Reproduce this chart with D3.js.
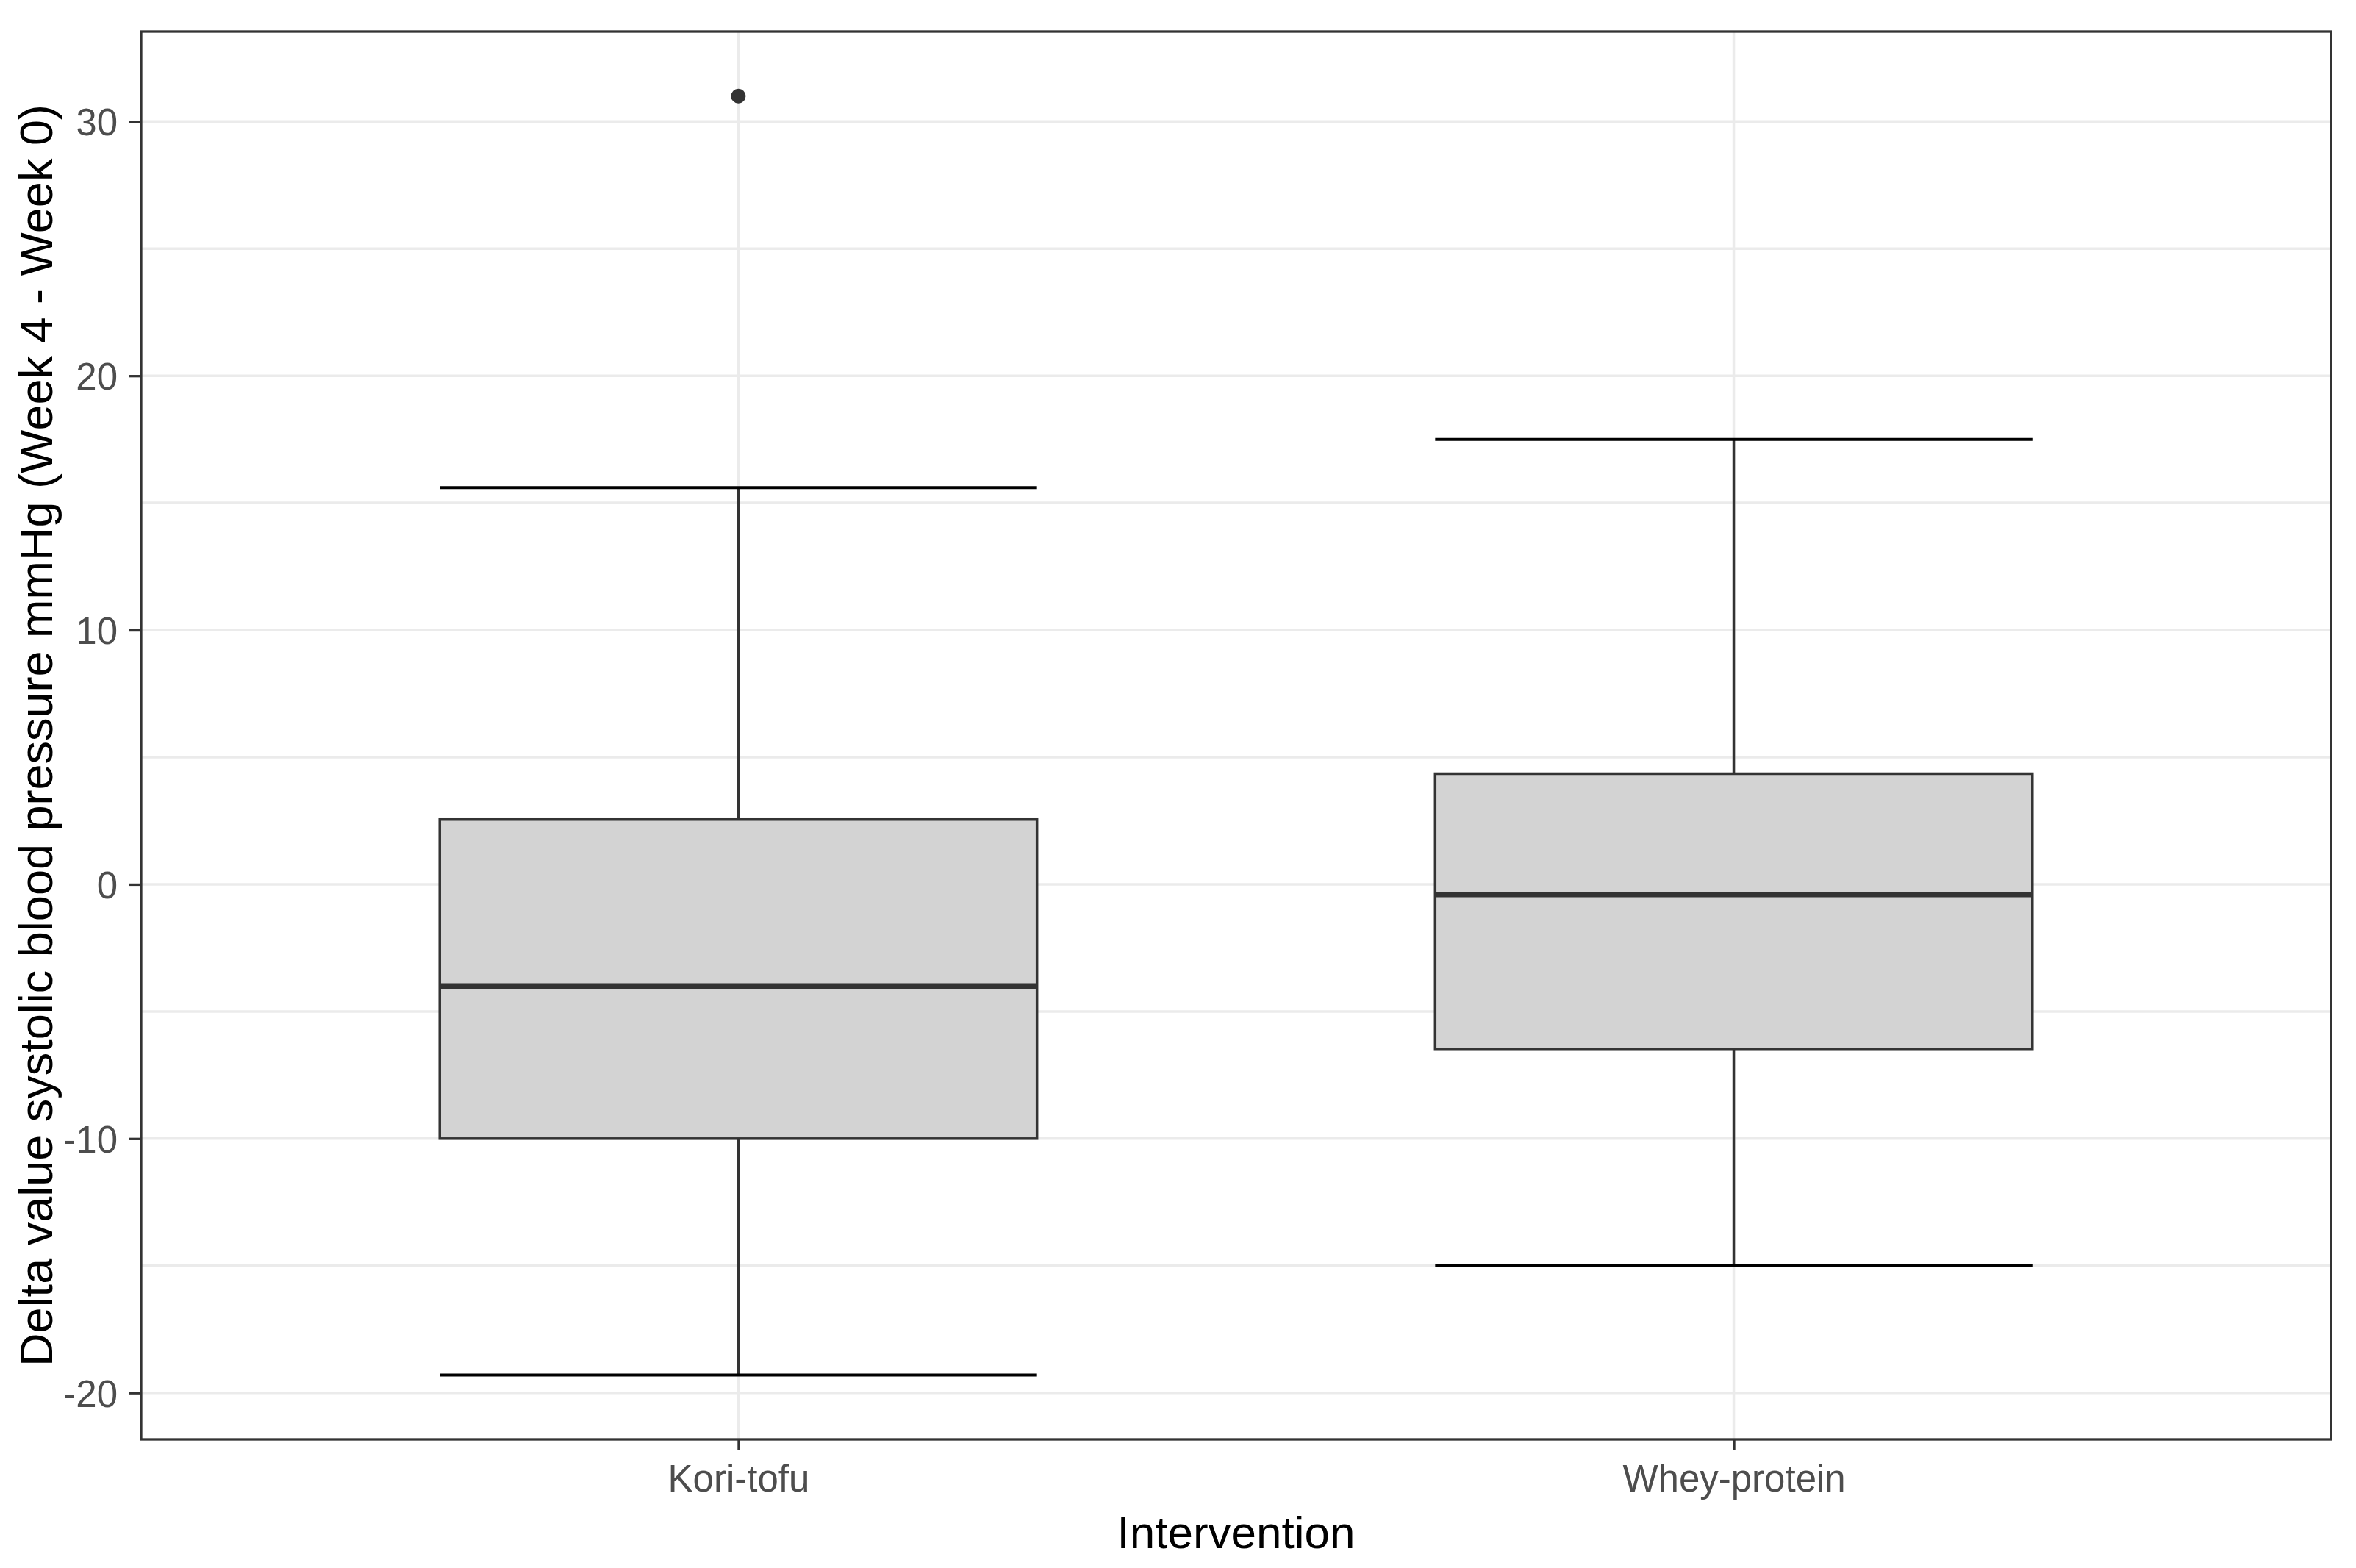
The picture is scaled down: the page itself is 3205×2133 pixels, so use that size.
<!DOCTYPE html>
<html>
<head>
<meta charset="utf-8">
<script src="https://cdn.jsdelivr.net/npm/d3@7"></script>
<style>
  html, body { margin: 0; padding: 0; background: #ffffff; }
  svg { display: block; }
</style>
</head>
<body>
<script>
// ---- data ----
const categories   = ["Kori-tofu", "Whey-protein"];
const whiskerLow   = [-19.3, -15.0];
const q1           = [-10.0, -6.5];
const median       = [-4.0, -0.4];
const q3           = [2.55, 4.35];
const whiskerHigh  = [15.6, 17.5];
const outlierGroup = ["Kori-tofu"];
const outlierValue = [31.0];
const yTicks       = [-20, -10, 0, 10, 20, 30];
const yMinorTicks  = [-15, -5, 5, 15, 25];
const xTitle = "Intervention";
const yTitle = "Delta value systolic blood pressure mmHg (Week 4 - Week 0)";

// ---- layout ----
const W = 3205, H = 2133;
const panel = { left: 192, right: 3171, top: 43, bottom: 1958 };
const FONT = "'Liberation Sans', Arial, sans-serif";

const svg = d3.select("body").append("svg")
  .attr("width", W).attr("height", H)
  .attr("viewBox", `0 0 ${W} ${H}`);

svg.append("rect").attr("width", W).attr("height", H).attr("fill", "#ffffff");

const y = d3.scaleLinear().domain([-20, 30]).range([1894.7, 165.3]);
const x = d3.scalePoint().domain(categories)
  .range([panel.left, panel.right]).padding(0.6);
const boxW = x.step() * 0.6;

// panel background
svg.append("rect")
  .attr("x", panel.left).attr("y", panel.top)
  .attr("width", panel.right - panel.left).attr("height", panel.bottom - panel.top)
  .attr("fill", "#ffffff");

// grid lines
const grid = svg.append("g");
grid.selectAll("line.minor").data(yMinorTicks).join("line")
  .attr("x1", panel.left).attr("x2", panel.right)
  .attr("y1", d => y(d)).attr("y2", d => y(d))
  .attr("stroke", "#EBEBEB").attr("stroke-width", 3.5);
grid.selectAll("line.major").data(yTicks).join("line")
  .attr("x1", panel.left).attr("x2", panel.right)
  .attr("y1", d => y(d)).attr("y2", d => y(d))
  .attr("stroke", "#EBEBEB").attr("stroke-width", 3.5);
grid.selectAll("line.vx").data(categories).join("line")
  .attr("x1", d => x(d)).attr("x2", d => x(d))
  .attr("y1", panel.top).attr("y2", panel.bottom)
  .attr("stroke", "#EBEBEB").attr("stroke-width", 3.5);

// boxes
const stats = categories.map((c, i) => ({
  cat: c, lo: whiskerLow[i], q1: q1[i], med: median[i], q3: q3[i], hi: whiskerHigh[i]
}));
const g = svg.append("g");
const grp = g.selectAll("g.box").data(stats).join("g");

// whisker stems
grp.append("line")
  .attr("x1", d => x(d.cat)).attr("x2", d => x(d.cat))
  .attr("y1", d => y(d.hi)).attr("y2", d => y(d.q3))
  .attr("stroke", "#333333").attr("stroke-width", 3.5);
grp.append("line")
  .attr("x1", d => x(d.cat)).attr("x2", d => x(d.cat))
  .attr("y1", d => y(d.q1)).attr("y2", d => y(d.lo))
  .attr("stroke", "#333333").attr("stroke-width", 3.5);
// caps
grp.append("line")
  .attr("x1", d => x(d.cat) - boxW / 2).attr("x2", d => x(d.cat) + boxW / 2)
  .attr("y1", d => y(d.hi)).attr("y2", d => y(d.hi))
  .attr("stroke", "#000000").attr("stroke-width", 4);
grp.append("line")
  .attr("x1", d => x(d.cat) - boxW / 2).attr("x2", d => x(d.cat) + boxW / 2)
  .attr("y1", d => y(d.lo)).attr("y2", d => y(d.lo))
  .attr("stroke", "#000000").attr("stroke-width", 4);
// box
grp.append("rect")
  .attr("x", d => x(d.cat) - boxW / 2).attr("width", boxW)
  .attr("y", d => y(d.q3)).attr("height", d => y(d.q1) - y(d.q3))
  .attr("fill", "#D3D3D3").attr("stroke", "#333333").attr("stroke-width", 3.5);
// median
grp.append("line")
  .attr("x1", d => x(d.cat) - boxW / 2).attr("x2", d => x(d.cat) + boxW / 2)
  .attr("y1", d => y(d.med)).attr("y2", d => y(d.med))
  .attr("stroke", "#333333").attr("stroke-width", 7.5);

// outliers
g.selectAll("circle.out").data(outlierValue).join("circle")
  .attr("cx", (d, i) => x(outlierGroup[i])).attr("cy", d => y(d))
  .attr("r", 10).attr("fill", "#333333");

// panel border
svg.append("rect")
  .attr("x", panel.left).attr("y", panel.top)
  .attr("width", panel.right - panel.left).attr("height", panel.bottom - panel.top)
  .attr("fill", "none").attr("stroke", "#333333").attr("stroke-width", 3.3);

// axes
const yAxis = svg.append("g").attr("transform", `translate(${panel.left},0)`)
  .call(d3.axisLeft(y).tickValues(yTicks).tickSize(17).tickPadding(15).tickFormat(d => String(d)));
const xAxis = svg.append("g").attr("transform", `translate(0,${panel.bottom})`)
  .call(d3.axisBottom(x).tickSize(15).tickPadding(20));
[yAxis, xAxis].forEach(a => {
  a.select(".domain").remove();
  a.selectAll(".tick line").attr("stroke", "#333333").attr("stroke-width", 3.3);
  a.selectAll(".tick text")
    .attr("fill", "#4D4D4D")
    .style("font-family", FONT).style("font-size", "51px");
});
yAxis.selectAll(".tick text").attr("dy", "0.36em");
xAxis.selectAll(".tick text").attr("dy", "0.71em");

// axis titles
svg.append("text")
  .attr("x", (panel.left + panel.right) / 2).attr("y", 2106)
  .attr("text-anchor", "middle")
  .style("font-family", FONT).style("font-size", "62px").attr("fill", "#000000")
  .text(xTitle);
svg.append("text")
  .attr("transform", `translate(71,${(panel.top + panel.bottom) / 2}) rotate(-90)`)
  .attr("text-anchor", "middle")
  .style("font-family", FONT).style("font-size", "63px").attr("fill", "#000000")
  .text(yTitle);
</script>
</body>
</html>
